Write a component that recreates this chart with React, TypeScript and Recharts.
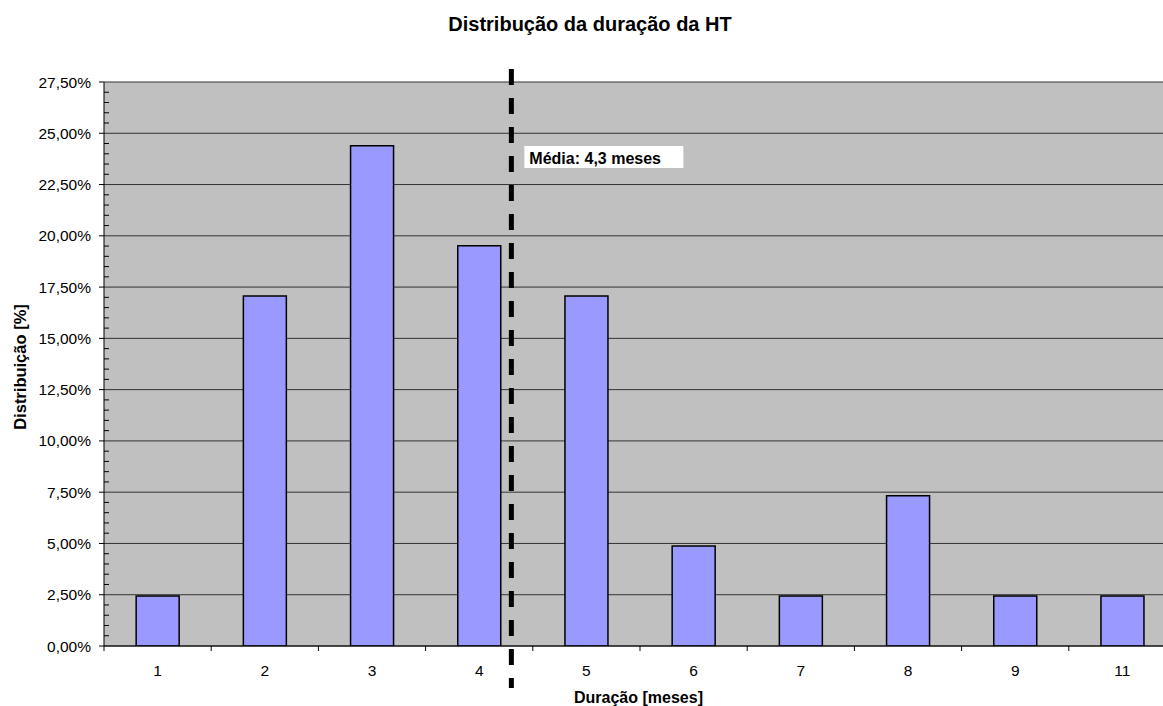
import React from 'react';
import { BarChart, Bar, XAxis, YAxis, CartesianGrid, ReferenceLine } from 'recharts';

// Duration categories (months) and share of patients in each one (%)
const CATEGORIES = ['1', '2', '3', '4', '5', '6', '7', '8', '9', '11'];
const SHARES = [2.44, 17.07, 24.39, 19.51, 17.07, 4.88, 2.44, 7.32, 2.44, 2.44];

// Mean duration, placed on the category positions (category n sits at n)
const MEAN_MONTHS = 4.3;
const MEAN_LABEL = 'Média: 4,3 meses';

// Y axis: labelled ticks every 2,5% and small ticks every 0,5%
const MAJOR_TICKS = [0, 2.5, 5, 7.5, 10, 12.5, 15, 17.5, 20, 22.5, 25, 27.5];
const MINOR_STEP = 0.5;
const ALL_Y_TICKS: number[] = [];
MAJOR_TICKS.forEach((t, i) => {
  ALL_Y_TICKS.push(t);
  if (i < MAJOR_TICKS.length - 1) {
    for (let k = 1; k < 5; k++) ALL_Y_TICKS.push(+(t + k * MINOR_STEP).toFixed(2));
  }
});

const TITLE = 'Distribução da duração da HT';
const X_TITLE = 'Duração [meses]';
const Y_TITLE = 'Distribuição [%]';

// pos = slot number of each category along the axis (1..10)
const data = CATEGORIES.map((c, i) => ({ cat: c, pos: i + 1, share: SHARES[i] }));

const FONT = '"Liberation Sans", Arial, Helvetica, sans-serif';

const fmtPct = (v: number) => v.toFixed(2).replace('.', ',') + '%';

const YTick = (props: any) => {
  const { x, y, payload } = props;
  const v = payload.value as number;
  const major = MAJOR_TICKS.some((t) => Math.abs(t - v) < 1e-6);
  if (!major) {
    return <line x1={x} x2={x + 5} y1={y} y2={y} stroke="#000" strokeWidth={1} />;
  }
  return (
    <g>
      <line x1={x - 5} x2={x} y1={y} y2={y} stroke="#000" strokeWidth={1} />
      <text x={x - 13} y={y + 5.5} textAnchor="end" fontFamily={FONT} fontSize={15.5} fill="#000">
        {fmtPct(v)}
      </text>
    </g>
  );
};

const XTick = (props: any) => {
  const { x, y, payload, index, width, visibleTicksCount } = props;
  const half =
    payload && payload.offset ? payload.offset : width && visibleTicksCount ? width / visibleTicksCount / 2 : 53.6;
  return (
    <g>
      {index === 0 && <line x1={x - half} x2={x - half} y1={y} y2={y + 5} stroke="#000" strokeWidth={1} />}
      <line x1={x + half} x2={x + half} y1={y} y2={y + 5} stroke="#000" strokeWidth={1} />
      <text x={x} y={y + 30} textAnchor="middle" fontFamily={FONT} fontSize={15.5} fill="#000">
        {payload.value}
      </text>
    </g>
  );
};

const MeanLine = (p: any) => {
  const x = p.x1;
  const top = Math.min(p.y1, p.y2);
  const bottom = Math.max(p.y1, p.y2);
  return (
    <g>
      <line x1={x} x2={x} y1={top - 13} y2={bottom + 42} stroke="#000" strokeWidth={5} strokeDasharray="16 13" />
      <rect x={x + 13} y={top + 64} width={159} height={22} fill="#fff" />
      <text x={x + 18} y={top + 82} fontFamily={FONT} fontSize={16} fontWeight="bold" fill="#000">
        {MEAN_LABEL}
      </text>
    </g>
  );
};

export default function App() {
  return (
    <div
      style={{
        position: 'absolute',
        left: 0,
        top: 0,
        width: 1163,
        height: 706,
        overflow: 'hidden',
        background: '#fff',
      }}
    >
      <BarChart
        width={1176}
        height={706}
        data={data}
        margin={{ top: 82, right: 0, bottom: 30, left: 0 }}
        barCategoryGap="30%"
      >
        <CartesianGrid
          vertical={false}
          horizontalValues={MAJOR_TICKS}
          fill="#C0C0C0"
          stroke="#333"
          strokeWidth={1}
          yAxisId="left"
          xAxisId="cat"
        />
        <XAxis
          xAxisId="cat"
          dataKey="cat"
          type="category"
          height={30}
          axisLine={{ stroke: '#000', strokeWidth: 1 }}
          tickLine={false}
          tickSize={0}
          tickMargin={0}
          interval={0}
          tick={<XTick />}
        />
        <XAxis xAxisId="mean" dataKey="pos" type="number" domain={[0.5, 10.5]} allowDataOverflow hide />
        <YAxis
          yAxisId="left"
          width={104}
          domain={[0, 27.5]}
          ticks={ALL_Y_TICKS}
          interval={0}
          axisLine={{ stroke: '#000', strokeWidth: 1 }}
          tickLine={false}
          tickSize={0}
          tickMargin={0}
          tick={<YTick />}
          allowDataOverflow
        />
        <Bar
          xAxisId="cat"
          yAxisId="left"
          dataKey="share"
          fill="#9999FF"
          stroke="#000"
          strokeWidth={1.5}
          isAnimationActive={false}
        />
        <ReferenceLine xAxisId="mean" yAxisId="left" x={MEAN_MONTHS} shape={<MeanLine />} />
      </BarChart>
      <svg
        width={1163}
        height={706}
        style={{ position: 'absolute', left: 0, top: 0, pointerEvents: 'none' }}
      >
        <text x={590} y={31} textAnchor="middle" fontFamily={FONT} fontSize={20} fontWeight="bold" fill="#000">
          {TITLE}
        </text>
        <text
          x={26}
          y={367}
          transform="rotate(-90 26 367)"
          textAnchor="middle"
          fontFamily={FONT}
          fontSize={16.5}
          fontWeight="bold"
          fill="#000"
        >
          {Y_TITLE}
        </text>
        <text x={638.5} y={703} textAnchor="middle" fontFamily={FONT} fontSize={16} fontWeight="bold" fill="#000">
          {X_TITLE}
        </text>
      </svg>
    </div>
  );
}
